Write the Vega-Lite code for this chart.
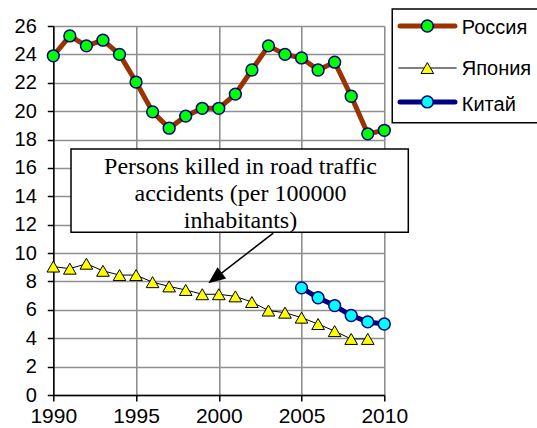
{
  "$schema": "https://vega.github.io/schema/vega-lite/v6.json",
  "width": 331,
  "height": 369,
  "autosize": {"type": "none"},
  "padding": {"left": 53.3, "top": 26, "right": 152.7, "bottom": 33},
  "background": "white",
  "config": {
    "view": {"stroke": null},
    "font": "Liberation Sans",
    "axis": {
      "grid": true,
      "gridColor": "#8f8f8f",
      "gridWidth": 1.6,
      "domainColor": "#000000",
      "domainWidth": 1.5,
      "tickColor": "#000000",
      "tickWidth": 1.5,
      "tickSize": 6,
      "labelFont": "Liberation Sans",
      "labelFontSize": 20,
      "labelColor": "#000000",
      "labelFlush": false,
      "labelOverlap": false,
      "labelBound": false,
      "title": null
    }
  },
  "datasets": {
    "series": [
      {"year": 1990, "country": "Россия", "value": 23.9},
      {"year": 1991, "country": "Россия", "value": 25.3},
      {"year": 1992, "country": "Россия", "value": 24.6},
      {"year": 1993, "country": "Россия", "value": 25.0},
      {"year": 1994, "country": "Россия", "value": 24.0},
      {"year": 1995, "country": "Россия", "value": 22.05},
      {"year": 1996, "country": "Россия", "value": 19.95},
      {"year": 1997, "country": "Россия", "value": 18.8},
      {"year": 1998, "country": "Россия", "value": 19.65},
      {"year": 1999, "country": "Россия", "value": 20.2},
      {"year": 2000, "country": "Россия", "value": 20.2},
      {"year": 2001, "country": "Россия", "value": 21.2},
      {"year": 2002, "country": "Россия", "value": 22.9},
      {"year": 2003, "country": "Россия", "value": 24.6},
      {"year": 2004, "country": "Россия", "value": 24.0},
      {"year": 2005, "country": "Россия", "value": 23.75},
      {"year": 2006, "country": "Россия", "value": 22.9},
      {"year": 2007, "country": "Россия", "value": 23.45},
      {"year": 2008, "country": "Россия", "value": 21.05},
      {"year": 2009, "country": "Россия", "value": 18.4},
      {"year": 2010, "country": "Россия", "value": 18.65},
      {"year": 1990, "country": "Япония", "value": 9.05},
      {"year": 1991, "country": "Япония", "value": 8.9},
      {"year": 1992, "country": "Япония", "value": 9.25},
      {"year": 1993, "country": "Япония", "value": 8.75},
      {"year": 1994, "country": "Япония", "value": 8.45},
      {"year": 1995, "country": "Япония", "value": 8.45},
      {"year": 1996, "country": "Япония", "value": 7.95},
      {"year": 1997, "country": "Япония", "value": 7.65},
      {"year": 1998, "country": "Япония", "value": 7.4},
      {"year": 1999, "country": "Япония", "value": 7.1},
      {"year": 2000, "country": "Япония", "value": 7.1},
      {"year": 2001, "country": "Япония", "value": 6.95},
      {"year": 2002, "country": "Япония", "value": 6.55},
      {"year": 2003, "country": "Япония", "value": 5.95},
      {"year": 2004, "country": "Япония", "value": 5.8},
      {"year": 2005, "country": "Япония", "value": 5.45},
      {"year": 2006, "country": "Япония", "value": 5.0},
      {"year": 2007, "country": "Япония", "value": 4.5},
      {"year": 2008, "country": "Япония", "value": 3.95},
      {"year": 2009, "country": "Япония", "value": 3.95},
      {"year": 2005, "country": "Китай", "value": 7.55},
      {"year": 2006, "country": "Китай", "value": 6.85},
      {"year": 2007, "country": "Китай", "value": 6.3},
      {"year": 2008, "country": "Китай", "value": 5.6},
      {"year": 2009, "country": "Китай", "value": 5.15},
      {"year": 2010, "country": "Китай", "value": 5.0}
    ]
  },
  "layer": [
    {
      "data": {"name": "series"},
      "transform": [{"filter": "datum.country === 'Россия'"}],
      "mark": {"type": "line", "color": "#993300", "strokeWidth": 5, "strokeJoin": "round"},
      "encoding": {
        "x": {"field": "year", "type": "quantitative", "scale": {"domain": [1990, 2010], "nice": false, "zero": false}, "axis": {"values": [1990, 1995, 2000, 2005, 2010], "format": "d", "labelPadding": 4, "labelFontSize": 21, "labelOverlap": false, "tickCount": 5}},
        "y": {"field": "value", "type": "quantitative", "scale": {"domain": [0, 26], "nice": false, "zero": false}, "axis": {"values": [0, 2, 4, 6, 8, 10, 12, 14, 16, 18, 20, 22, 24, 26], "labelPadding": 11, "labelOverlap": false, "tickCount": 14}}
      }
    },
    {
      "data": {"name": "series"},
      "transform": [{"filter": "datum.country === 'Япония'"}],
      "mark": {"type": "line", "color": "#000000", "strokeWidth": 1},
      "encoding": {
        "x": {"field": "year", "type": "quantitative", "axis": {"values": [1990, 1995, 2000, 2005, 2010], "format": "d", "labelPadding": 4, "labelFontSize": 21, "labelOverlap": false, "tickCount": 5}},
        "y": {"field": "value", "type": "quantitative", "axis": {"values": [0, 2, 4, 6, 8, 10, 12, 14, 16, 18, 20, 22, 24, 26], "labelPadding": 11, "labelOverlap": false, "tickCount": 14}}
      }
    },
    {
      "data": {"name": "series"},
      "transform": [{"filter": "datum.country === 'Китай'"}],
      "mark": {"type": "line", "color": "#000080", "strokeWidth": 5, "strokeJoin": "round"},
      "encoding": {
        "x": {"field": "year", "type": "quantitative", "axis": {"values": [1990, 1995, 2000, 2005, 2010], "format": "d", "labelPadding": 4, "labelFontSize": 21, "labelOverlap": false, "tickCount": 5}},
        "y": {"field": "value", "type": "quantitative", "axis": {"values": [0, 2, 4, 6, 8, 10, 12, 14, 16, 18, 20, 22, 24, 26], "labelPadding": 11, "labelOverlap": false, "tickCount": 14}}
      }
    },
    {
      "data": {"name": "series"},
      "transform": [{"filter": "datum.country === 'Россия'"}],
      "mark": {"type": "point", "shape": "circle", "filled": true, "fill": "#00ff00", "stroke": "#000080", "strokeWidth": 1.5, "size": 140, "opacity": 1},
      "encoding": {
        "x": {"field": "year", "type": "quantitative", "axis": {"values": [1990, 1995, 2000, 2005, 2010], "format": "d", "labelPadding": 4, "labelFontSize": 21, "labelOverlap": false, "tickCount": 5}},
        "y": {"field": "value", "type": "quantitative", "axis": {"values": [0, 2, 4, 6, 8, 10, 12, 14, 16, 18, 20, 22, 24, 26], "labelPadding": 11, "labelOverlap": false, "tickCount": 14}}
      }
    },
    {
      "data": {"name": "series"},
      "transform": [{"filter": "datum.country === 'Япония'"}],
      "mark": {"type": "point", "shape": "triangle-up", "filled": true, "fill": "#ffff00", "stroke": "#000000", "strokeWidth": 1, "size": 160, "opacity": 1},
      "encoding": {
        "x": {"field": "year", "type": "quantitative", "axis": {"values": [1990, 1995, 2000, 2005, 2010], "format": "d", "labelPadding": 4, "labelFontSize": 21, "labelOverlap": false, "tickCount": 5}},
        "y": {"field": "value", "type": "quantitative", "axis": {"values": [0, 2, 4, 6, 8, 10, 12, 14, 16, 18, 20, 22, 24, 26], "labelPadding": 11, "labelOverlap": false, "tickCount": 14}}
      }
    },
    {
      "data": {"name": "series"},
      "transform": [{"filter": "datum.country === 'Китай'"}],
      "mark": {"type": "point", "shape": "circle", "filled": true, "fill": "#00ffff", "stroke": "#000080", "strokeWidth": 1.5, "size": 140, "opacity": 1},
      "encoding": {
        "x": {"field": "year", "type": "quantitative", "axis": {"values": [1990, 1995, 2000, 2005, 2010], "format": "d", "labelPadding": 4, "labelFontSize": 21, "labelOverlap": false, "tickCount": 5}},
        "y": {"field": "value", "type": "quantitative", "axis": {"values": [0, 2, 4, 6, 8, 10, 12, 14, 16, 18, 20, 22, 24, 26], "labelPadding": 11, "labelOverlap": false, "tickCount": 14}}
      }
    },
    {
      "data": {"values": [{"label": "Persons killed in road traffic\naccidents (per 100000\ninhabitants)"}]},
      "mark": {"type": "rect", "fill": "white", "stroke": "black", "strokeWidth": 1.5},
      "encoding": {
        "x": {"datum": 1991.07, "type": "quantitative", "axis": {"values": [1990, 1995, 2000, 2005, 2010], "format": "d", "labelPadding": 4, "labelFontSize": 21, "labelOverlap": false, "tickCount": 5}},
        "x2": {"datum": 2011.45},
        "y": {"datum": 17.34, "type": "quantitative", "axis": {"values": [0, 2, 4, 6, 8, 10, 12, 14, 16, 18, 20, 22, 24, 26], "labelPadding": 11, "labelOverlap": false, "tickCount": 14}},
        "y2": {"datum": 11.47}
      }
    },
    {
      "data": {"values": [{"label": "Persons killed in road traffic\naccidents (per 100000\ninhabitants)"}]},
      "mark": {"type": "text", "font": "Liberation Serif", "fontSize": 24, "lineHeight": 27, "lineBreak": "\n", "align": "center", "baseline": "middle", "color": "black"},
      "encoding": {
        "x": {"datum": 2001.31, "type": "quantitative", "axis": {"values": [1990, 1995, 2000, 2005, 2010], "format": "d", "labelPadding": 4, "labelFontSize": 21, "labelOverlap": false, "tickCount": 5}},
        "y": {"datum": 16.09, "type": "quantitative", "axis": {"values": [0, 2, 4, 6, 8, 10, 12, 14, 16, 18, 20, 22, 24, 26], "labelPadding": 11, "labelOverlap": false, "tickCount": 14}},
        "text": {"field": "label"}
      }
    },
    {
      "data": {"values": [{"label": "arrow"}]},
      "mark": {"type": "rule", "color": "black", "strokeWidth": 1.5},
      "encoding": {
        "x": {"datum": 2003.29, "type": "quantitative", "axis": {"values": [1990, 1995, 2000, 2005, 2010], "format": "d", "labelPadding": 4, "labelFontSize": 21, "labelOverlap": false, "tickCount": 5}},
        "y": {"datum": 11.4, "type": "quantitative", "axis": {"values": [0, 2, 4, 6, 8, 10, 12, 14, 16, 18, 20, 22, 24, 26], "labelPadding": 11, "labelOverlap": false, "tickCount": 14}},
        "x2": {"datum": 1999.6},
        "y2": {"datum": 8.08}
      }
    },
    {
      "data": {"values": [{"label": "arrow"}]},
      "mark": {"type": "point", "shape": "M0,0 L0.42,1 L-0.42,1 Z", "size": 1156, "angle": 232.4, "filled": true, "color": "black", "opacity": 1},
      "encoding": {
        "x": {"datum": 1999.37, "type": "quantitative", "axis": {"values": [1990, 1995, 2000, 2005, 2010], "format": "d", "labelPadding": 4, "labelFontSize": 21, "labelOverlap": false, "tickCount": 5}},
        "y": {"datum": 7.87, "type": "quantitative", "axis": {"values": [0, 2, 4, 6, 8, 10, 12, 14, 16, 18, 20, 22, 24, 26], "labelPadding": 11, "labelOverlap": false, "tickCount": 14}}
      }
    },
    {
      "data": {"values": [{"label": "legend"}]},
      "mark": {"type": "rect", "fill": "white", "stroke": "black", "strokeWidth": 1.5},
      "encoding": {
        "x": {"datum": 2010.48, "type": "quantitative", "axis": {"values": [1990, 1995, 2000, 2005, 2010], "format": "d", "labelPadding": 4, "labelFontSize": 21, "labelOverlap": false, "tickCount": 5}},
        "x2": {"datum": 2020.5},
        "y": {"datum": 27.2, "type": "quantitative", "axis": {"values": [0, 2, 4, 6, 8, 10, 12, 14, 16, 18, 20, 22, 24, 26], "labelPadding": 11, "labelOverlap": false, "tickCount": 14}},
        "y2": {"datum": 19.19}
      }
    },
    {
      "data": {"values": [{"label": "Россия"}]},
      "layer": [
        {
          "mark": {"type": "rule", "color": "#993300", "strokeWidth": 5, "strokeCap": "round"},
          "encoding": {
            "x": {"datum": 2010.95, "type": "quantitative", "axis": {"values": [1990, 1995, 2000, 2005, 2010], "format": "d", "labelPadding": 4, "labelFontSize": 21, "labelOverlap": false, "tickCount": 5}},
            "x2": {"datum": 2014.27},
            "y": {"datum": 26.0, "type": "quantitative", "axis": {"values": [0, 2, 4, 6, 8, 10, 12, 14, 16, 18, 20, 22, 24, 26], "labelPadding": 11, "labelOverlap": false, "tickCount": 14}}
          }
        },
        {
          "mark": {"type": "point", "shape": "circle", "filled": true, "fill": "#00ff00", "stroke": "#000080", "strokeWidth": 1.5, "size": 140, "opacity": 1},
          "encoding": {
            "x": {"datum": 2012.6, "type": "quantitative", "axis": {"values": [1990, 1995, 2000, 2005, 2010], "format": "d", "labelPadding": 4, "labelFontSize": 21, "labelOverlap": false, "tickCount": 5}},
            "y": {"datum": 26.0, "type": "quantitative", "axis": {"values": [0, 2, 4, 6, 8, 10, 12, 14, 16, 18, 20, 22, 24, 26], "labelPadding": 11, "labelOverlap": false, "tickCount": 14}}
          }
        },
        {
          "mark": {"type": "text", "font": "Liberation Sans", "fontSize": 20, "align": "left", "baseline": "middle", "dy": 2, "color": "black"},
          "encoding": {
            "x": {"datum": 2014.68, "type": "quantitative", "axis": {"values": [1990, 1995, 2000, 2005, 2010], "format": "d", "labelPadding": 4, "labelFontSize": 21, "labelOverlap": false, "tickCount": 5}},
            "y": {"datum": 26.0, "type": "quantitative", "axis": {"values": [0, 2, 4, 6, 8, 10, 12, 14, 16, 18, 20, 22, 24, 26], "labelPadding": 11, "labelOverlap": false, "tickCount": 14}},
            "text": {"field": "label"}
          }
        }
      ]
    },
    {
      "data": {"values": [{"label": "Япония"}]},
      "layer": [
        {
          "mark": {"type": "rule", "color": "#000000", "strokeWidth": 1},
          "encoding": {
            "x": {"datum": 2010.85, "type": "quantitative", "axis": {"values": [1990, 1995, 2000, 2005, 2010], "format": "d", "labelPadding": 4, "labelFontSize": 21, "labelOverlap": false, "tickCount": 5}},
            "x2": {"datum": 2014.37},
            "y": {"datum": 23.04, "type": "quantitative", "axis": {"values": [0, 2, 4, 6, 8, 10, 12, 14, 16, 18, 20, 22, 24, 26], "labelPadding": 11, "labelOverlap": false, "tickCount": 14}}
          }
        },
        {
          "mark": {"type": "point", "shape": "triangle-up", "filled": true, "fill": "#ffff00", "stroke": "#000000", "strokeWidth": 1, "size": 160, "opacity": 1},
          "encoding": {
            "x": {"datum": 2012.6, "type": "quantitative", "axis": {"values": [1990, 1995, 2000, 2005, 2010], "format": "d", "labelPadding": 4, "labelFontSize": 21, "labelOverlap": false, "tickCount": 5}},
            "y": {"datum": 23.04, "type": "quantitative", "axis": {"values": [0, 2, 4, 6, 8, 10, 12, 14, 16, 18, 20, 22, 24, 26], "labelPadding": 11, "labelOverlap": false, "tickCount": 14}}
          }
        },
        {
          "mark": {"type": "text", "font": "Liberation Sans", "fontSize": 20, "align": "left", "baseline": "middle", "dy": 1, "color": "black"},
          "encoding": {
            "x": {"datum": 2014.68, "type": "quantitative", "axis": {"values": [1990, 1995, 2000, 2005, 2010], "format": "d", "labelPadding": 4, "labelFontSize": 21, "labelOverlap": false, "tickCount": 5}},
            "y": {"datum": 23.04, "type": "quantitative", "axis": {"values": [0, 2, 4, 6, 8, 10, 12, 14, 16, 18, 20, 22, 24, 26], "labelPadding": 11, "labelOverlap": false, "tickCount": 14}},
            "text": {"field": "label"}
          }
        }
      ]
    },
    {
      "data": {"values": [{"label": "Китай"}]},
      "layer": [
        {
          "mark": {"type": "rule", "color": "#000080", "strokeWidth": 5, "strokeCap": "round"},
          "encoding": {
            "x": {"datum": 2010.95, "type": "quantitative", "axis": {"values": [1990, 1995, 2000, 2005, 2010], "format": "d", "labelPadding": 4, "labelFontSize": 21, "labelOverlap": false, "tickCount": 5}},
            "x2": {"datum": 2014.27},
            "y": {"datum": 20.65, "type": "quantitative", "axis": {"values": [0, 2, 4, 6, 8, 10, 12, 14, 16, 18, 20, 22, 24, 26], "labelPadding": 11, "labelOverlap": false, "tickCount": 14}}
          }
        },
        {
          "mark": {"type": "point", "shape": "circle", "filled": true, "fill": "#00ffff", "stroke": "#000080", "strokeWidth": 1.5, "size": 140, "opacity": 1},
          "encoding": {
            "x": {"datum": 2012.6, "type": "quantitative", "axis": {"values": [1990, 1995, 2000, 2005, 2010], "format": "d", "labelPadding": 4, "labelFontSize": 21, "labelOverlap": false, "tickCount": 5}},
            "y": {"datum": 20.65, "type": "quantitative", "axis": {"values": [0, 2, 4, 6, 8, 10, 12, 14, 16, 18, 20, 22, 24, 26], "labelPadding": 11, "labelOverlap": false, "tickCount": 14}}
          }
        },
        {
          "mark": {"type": "text", "font": "Liberation Sans", "fontSize": 20, "align": "left", "baseline": "middle", "dy": 3, "color": "black"},
          "encoding": {
            "x": {"datum": 2014.68, "type": "quantitative", "axis": {"values": [1990, 1995, 2000, 2005, 2010], "format": "d", "labelPadding": 4, "labelFontSize": 21, "labelOverlap": false, "tickCount": 5}},
            "y": {"datum": 20.65, "type": "quantitative", "axis": {"values": [0, 2, 4, 6, 8, 10, 12, 14, 16, 18, 20, 22, 24, 26], "labelPadding": 11, "labelOverlap": false, "tickCount": 14}},
            "text": {"field": "label"}
          }
        }
      ]
    }
  ]
}
